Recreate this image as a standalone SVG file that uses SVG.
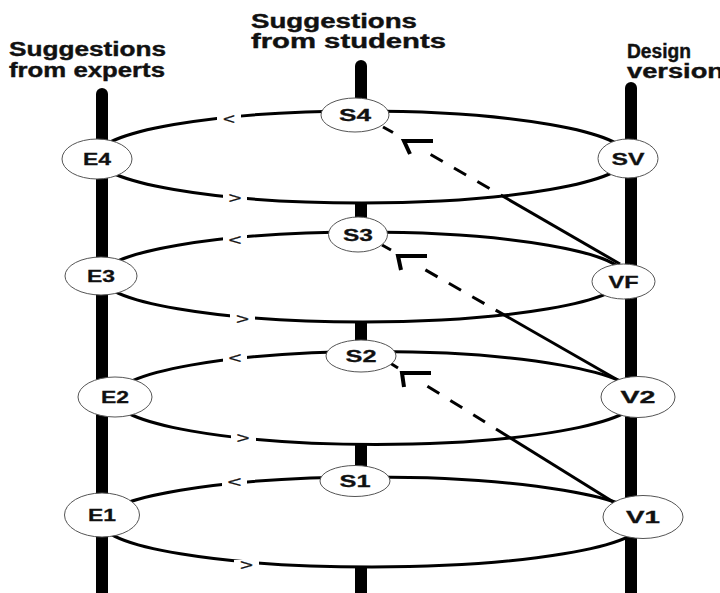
<svg xmlns="http://www.w3.org/2000/svg" width="720" height="593" viewBox="0 0 720 593">
  <style>
    .bar { stroke: #000; stroke-width: 12; stroke-linecap: round; }
    .ring { fill: #fff; stroke: #000; stroke-width: 3; }
    .node ellipse { fill: #fff; stroke: #555; stroke-width: 1; }
    .node text { font-family: "Liberation Sans", Arial, sans-serif; font-weight: bold; font-size: 17px; fill: #111; stroke: #111; stroke-width: 0.3; text-anchor: middle; }
    .head { font-family: "Liberation Sans", Arial, sans-serif; font-weight: bold; font-size: 20px; fill: #111; stroke: #111; stroke-width: 0.4; }
    .link { stroke: #000; stroke-width: 3; fill: none; }
    .dash { stroke-dasharray: 14 13; }
    .tip { stroke: #000; stroke-width: 4; fill: none; stroke-linejoin: miter; }
    .dir { font-family: "Liberation Sans", Arial, sans-serif; font-size: 15px; fill: #111; stroke: #111; stroke-width: 0.3; text-anchor: middle; }
    .gap { fill: #fff; }
  </style>

  <!-- column headings -->
  <g id="headings">
    <text class="head" x="9" y="56" textLength="157" lengthAdjust="spacingAndGlyphs">Suggestions</text>
    <text class="head" x="9" y="77" textLength="156" lengthAdjust="spacingAndGlyphs">from experts</text>
    <text class="head" x="251" y="28" textLength="166" lengthAdjust="spacingAndGlyphs">Suggestions</text>
    <text class="head" x="251" y="48" textLength="195" lengthAdjust="spacingAndGlyphs">from students</text>
    <text class="head" x="627" y="58" textLength="64" lengthAdjust="spacingAndGlyphs">Design</text>
    <text class="head" x="627" y="78" textLength="97" lengthAdjust="spacingAndGlyphs">version</text>
  </g>

  <!-- vertical timelines -->
  <g id="timelines">
    <line class="bar" x1="102" y1="94" x2="102" y2="600"/>
    <line class="bar" x1="361" y1="66" x2="361" y2="600"/>
    <line class="bar" x1="631" y1="88" x2="631" y2="600"/>
  </g>

  <!-- iteration loops -->
  <g id="loops">
    <ellipse class="ring" cx="362" cy="157" rx="266" ry="46"/>
    <ellipse class="ring" cx="363" cy="277" rx="262" ry="45"/>
    <ellipse class="ring" cx="376" cy="398" rx="262" ry="46.5"/>
    <ellipse class="ring" cx="372" cy="522" rx="271" ry="45"/>
  </g>

  <!-- links from each version to the next round of student suggestions -->
  <g id="connectors">
    <!-- V1 to S2 -->
    <line class="link" x1="496" y1="429" x2="615" y2="503"/>
    <line class="link dash" x1="427.4" y1="386.2" x2="485" y2="422"/>
    <line class="link" x1="390" y1="363" x2="398" y2="368"/>
    <polyline class="tip" points="431,373 402,373 404,387"/>
    <!-- V2 to S3 -->
    <line class="link" x1="495.7" y1="310.1" x2="623" y2="383"/>
    <line class="link dash" x1="425.4" y1="269.9" x2="484.4" y2="303.6"/>
    <line class="link" x1="382" y1="245" x2="391" y2="250"/>
    <polyline class="tip" points="427,256 398,256 401,270"/>
    <!-- VF to S4 -->
    <line class="link" x1="500.8" y1="195" x2="620" y2="264"/>
    <line class="link dash" x1="430.6" y1="154.5" x2="489.5" y2="188.5"/>
    <line class="link" x1="383" y1="127" x2="393" y2="132.5"/>
    <polyline class="tip" points="433,141 404,141 410,154"/>
  </g>

  <!-- direction marks on the loops -->
  <g id="directions">
    <rect class="gap" x="217" y="114" width="24" height="9"/>
    <text class="dir" x="229" y="124" textLength="12" lengthAdjust="spacingAndGlyphs">&lt;</text>
    <rect class="gap" x="223" y="193" width="24" height="10"/>
    <text class="dir" x="235" y="203" textLength="13" lengthAdjust="spacingAndGlyphs">&gt;</text>
    <rect class="gap" x="223" y="235" width="24" height="10"/>
    <text class="dir" x="235" y="245" textLength="13" lengthAdjust="spacingAndGlyphs">&lt;</text>
    <rect class="gap" x="230" y="314" width="25" height="10"/>
    <text class="dir" x="242.5" y="324" textLength="13" lengthAdjust="spacingAndGlyphs">&gt;</text>
    <rect class="gap" x="223" y="353" width="24" height="10"/>
    <text class="dir" x="235" y="363" textLength="13" lengthAdjust="spacingAndGlyphs">&lt;</text>
    <rect class="gap" x="231" y="433" width="25" height="10"/>
    <text class="dir" x="243" y="443" textLength="13" lengthAdjust="spacingAndGlyphs">&gt;</text>
    <rect class="gap" x="222" y="477" width="25" height="10"/>
    <text class="dir" x="234.5" y="487" textLength="14" lengthAdjust="spacingAndGlyphs">&lt;</text>
    <rect class="gap" x="234" y="560" width="25" height="10"/>
    <text class="dir" x="246.5" y="570" textLength="13" lengthAdjust="spacingAndGlyphs">&gt;</text>
  </g>

  <!-- expert suggestion nodes -->
  <g id="E4" class="node"><ellipse cx="97" cy="159" rx="35" ry="20"/><text x="97" y="165" textLength="28" lengthAdjust="spacingAndGlyphs">E4</text></g>
  <g id="E3" class="node"><ellipse cx="101" cy="276" rx="36" ry="19"/><text x="101" y="282" textLength="28" lengthAdjust="spacingAndGlyphs">E3</text></g>
  <g id="E2" class="node"><ellipse cx="115" cy="397" rx="37" ry="20"/><text x="115" y="403" textLength="28" lengthAdjust="spacingAndGlyphs">E2</text></g>
  <g id="E1" class="node"><ellipse cx="102" cy="515" rx="37.5" ry="22"/><text x="102" y="521" textLength="28" lengthAdjust="spacingAndGlyphs">E1</text></g>

  <!-- student suggestion nodes -->
  <g id="S4" class="node"><ellipse cx="355" cy="115" rx="34" ry="17"/><text x="355" y="121" textLength="32" lengthAdjust="spacingAndGlyphs">S4</text></g>
  <g id="S3" class="node"><ellipse cx="358" cy="234.5" rx="29.5" ry="17.5"/><text x="358" y="240.5" textLength="30" lengthAdjust="spacingAndGlyphs">S3</text></g>
  <g id="S2" class="node"><ellipse cx="361" cy="356" rx="35" ry="16"/><text x="361" y="362" textLength="31" lengthAdjust="spacingAndGlyphs">S2</text></g>
  <g id="S1" class="node"><ellipse cx="355" cy="481" rx="35" ry="15.5"/><text x="355" y="487" textLength="31" lengthAdjust="spacingAndGlyphs">S1</text></g>

  <!-- design version nodes -->
  <g id="SV" class="node"><ellipse cx="628" cy="158.5" rx="30" ry="19.5"/><text x="628" y="164.5" textLength="33" lengthAdjust="spacingAndGlyphs">SV</text></g>
  <g id="VF" class="node"><ellipse cx="623.5" cy="281.5" rx="31.5" ry="17.5"/><text x="623.5" y="287.5" textLength="30" lengthAdjust="spacingAndGlyphs">VF</text></g>
  <g id="V2" class="node"><ellipse cx="638" cy="397" rx="37" ry="20.5"/><text x="638" y="403" textLength="35" lengthAdjust="spacingAndGlyphs">V2</text></g>
  <g id="V1" class="node"><ellipse cx="643" cy="517" rx="40" ry="21.5"/><text x="643" y="523" textLength="34" lengthAdjust="spacingAndGlyphs">V1</text></g>
</svg>
